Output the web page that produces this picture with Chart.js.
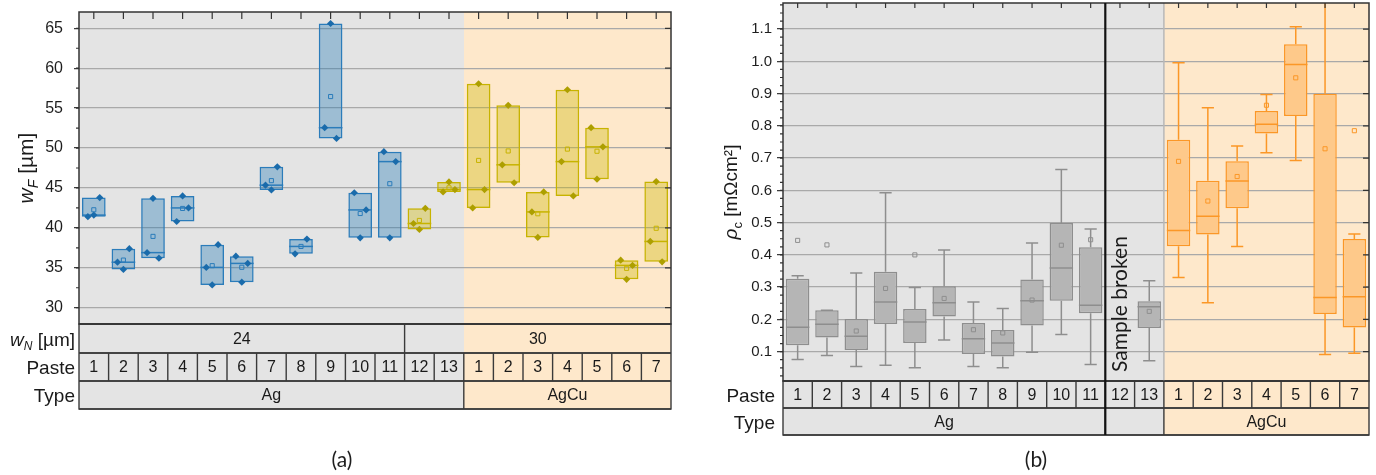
<!DOCTYPE html>
<html>
<head>
<meta charset="utf-8">
<title>Finger width and contact resistivity by paste</title>
<script src="https://cdn.jsdelivr.net/npm/chart.js@4.4.1/dist/chart.umd.min.js"></script>
<style>
  html, body { margin: 0; padding: 0; background: #ffffff; }
  body { position: relative; width: 1376px; height: 475px; overflow: hidden; }
  .panel { position: absolute; }
  .panel canvas { display: block; }
  #panelA { left: 0; top: 0; width: 690px; height: 475px; }
  #panelB { left: 690px; top: -2px; width: 686px; height: 477px; }
  .caption { position: absolute; top: 446px; transform: translateX(-50%);
             font: 21px Lato, 'Open Sans', sans-serif; line-height: 26px; color: #1e1e1e; }
</style>
</head>
<body>
<div class="panel" id="panelA"><canvas id="chartA" width="690" height="475" style="width:690px;height:475px"></canvas></div>
<div class="panel" id="panelB"><canvas id="chartB" width="686" height="477" style="width:686px;height:477px"></canvas></div>
<div class="caption" style="left:342px">(a)</div>
<div class="caption" style="left:1036px">(b)</div>
<script>
// ---------------------------------------------------------------------------
// Data
// ---------------------------------------------------------------------------
// Paste numbering along the x axis (Ag pastes 1-13, AgCu pastes 1-7)
const pasteLabels = ['1','2','3','4','5','6','7','8','9','10','11','12','13','1','2','3','4','5','6','7'];
const pasteType = ['Ag','Ag','Ag','Ag','Ag','Ag','Ag','Ag','Ag','Ag','Ag','Ag','Ag',
                   'AgCu','AgCu','AgCu','AgCu','AgCu','AgCu','AgCu'];
// Screen opening width w_N [µm] per paste
const screenWidth = [24,24,24,24,24,24,24,24,24,24,24,30,30,30,30,30,30,30,30,30];

// Header groups of the category tables: [text, number of pastes]
const wNGroups    = [['24', 11], ['30', 9]];
const typeGroupsA = [['Ag', 13], ['AgCu', 7]];
const typeGroupsB = [['Ag', 11], ['', 2], ['AgCu', 7]];

// Axis tick labels
const wFTicks  = [30, 35, 40, 45, 50, 55, 60, 65];
const rhoTicks = [0.1, 0.2, 0.3, 0.4, 0.5, 0.6, 0.7, 0.8, 0.9, 1.0, 1.1];

// (a) Finger width w_F [µm]: individual measurements per paste
const wFMeasured = [
  [41.4, 41.6, 43.8],
  [35.7, 34.8, 37.4],
  [36.9, 43.7, 36.2],
  [40.8, 44.0, 42.5],
  [35.05, 32.85, 37.9],
  [36.45, 33.2, 35.55],
  [45.35, 44.75, 47.65],
  [36.75, 38.6],
  [52.55, 65.6, 51.2],
  [44.4, 38.75, 42.25],
  [49.55, 38.75, 48.3],
  [40.55, 39.8, 42.45],
  [44.5, 45.75, 44.8],
  [42.5, 58.05, 44.8],
  [47.9, 55.35, 45.65],
  [42.0, 38.8, 44.5],
  [48.3, 57.3, 44.0],
  [52.55, 46.1, 50.15],
  [35.95, 33.55, 35.3],
  [38.3, 45.8, 35.75]
];

// (b) Contact resistivity rho_c [mΩcm²]: box statistics per paste (paste 12 has no data)
const rhoWhiskerLow  = [0.076, 0.088, 0.054, 0.058, 0.050, 0.136, 0.054, 0.050, 0.098, 0.153, 0.060, null, 0.072,
                        0.330, 0.252, 0.426, 0.717, 0.693, 0.091, 0.095];
const rhoQ1          = [0.120, 0.144, 0.105, 0.186, 0.127, 0.209, 0.093, 0.085, 0.181, 0.258, 0.219, null, 0.173,
                        0.427, 0.463, 0.545, 0.776, 0.831, 0.217, 0.175];
const rhoMedian      = [0.176, 0.185, 0.148, 0.254, 0.192, 0.252, 0.140, 0.127, 0.258, 0.359, 0.244, null, 0.239,
                        0.476, 0.520, 0.629, 0.805, 0.990, 0.268, 0.270];
const rhoQ3          = [0.326, 0.228, 0.201, 0.348, 0.232, 0.303, 0.189, 0.167, 0.324, 0.499, 0.424, null, 0.256,
                        0.757, 0.630, 0.690, 0.846, 1.053, 0.900, 0.449];
const rhoWhiskerHigh = [0.335, 0.228, 0.344, 0.593, 0.299, 0.415, 0.254, 0.234, 0.437, 0.665, 0.480, null, 0.320,
                        0.996, 0.856, 0.738, 0.897, 1.107, 1.300, 0.465];
const rhoMean        = [0.445, 0.431, 0.164, 0.296, 0.400, 0.265, 0.168, 0.158, 0.260, 0.430, 0.447, null, 0.225,
                        0.690, 0.567, 0.643, 0.864, 0.949, 0.729, 0.785];
const brokenText = 'Sample broken';

// ---------------------------------------------------------------------------
// Styling
// ---------------------------------------------------------------------------
const N = pasteLabels.length;
const FONT   = "'Liberation Sans', Arial, sans-serif";
const NARROW = "'Liberation Sans Narrow', 'Liberation Sans', Arial, sans-serif";
const SOFT   = "Lato, 'Open Sans', sans-serif";
const C = {
  bgAg: '#e4e4e4', bgAgCu: '#fee8cb',
  blueLine: '#2b7cba', blueFill: 'rgba(31,119,180,0.36)', blueDot: '#1a6bab',
  oliveLine: '#c7b300', oliveFill: 'rgba(205,184,0,0.36)', oliveDot: '#ad9f00',
  greyLine: '#8e8e8e', greyFill: '#b5b5b5',
  orangeLine: '#fb9727', orangeFill: '#fec98a',
  grid: '#a9a9a9', frame: '#333333', table: '#3a3a3a', text: '#1a1a1a'
};
const JITTER = { 1: [0], 2: [-0.2, 0.2], 3: [-0.2, 0, 0.2] };

Chart.defaults.font.family = FONT;
Chart.defaults.color = C.text;

// ---------------------------------------------------------------------------
// Helpers
// ---------------------------------------------------------------------------
function catBg(i) { return pasteType[i] === 'Ag' ? C.bgAg : C.bgAgCu; }

function paintColumns(chart, top, bottom) {
  const xs = chart.scales.x, ctx = chart.ctx;
  for (let i = 0; i < N; i++) {
    const a = Math.round(xs.getPixelForValue(i));
    const b = Math.round(xs.getPixelForValue(i + 1));
    ctx.fillStyle = catBg(i);
    ctx.fillRect(a, top, b - a, bottom - top);
  }
}

// Mixed-style text (italic symbols, subscripts); parts = [text, font, dy]
function richText(ctx, parts, x, y, rot, align) {
  ctx.save();
  ctx.translate(x, y);
  ctx.rotate(rot);
  ctx.textAlign = 'left';
  ctx.textBaseline = 'alphabetic';
  ctx.fillStyle = C.text;
  let total = 0;
  const widths = parts.map(p => { ctx.font = p[1]; const w = ctx.measureText(p[0]).width; total += w; return w; });
  let cx = align === 'right' ? -total : (align === 'left' ? 0 : -total / 2);
  parts.forEach((p, k) => { ctx.font = p[1]; ctx.fillText(p[0], cx, p[2]); cx += widths[k]; });
  ctx.restore();
}

function drawTable(chart, rows, labelX) {
  const ctx = chart.ctx, xs = chart.scales.x;
  const px = v => xs.getPixelForValue(v);
  const L = px(0), R = px(N);
  rows.forEach(r => paintColumns(chart, r.top, r.bottom));
  ctx.save();
  ctx.strokeStyle = C.table;
  ctx.lineWidth = 1.4;
  rows.forEach(r => {
    const mid = (r.top + r.bottom) / 2;
    let s = 0;
    ctx.beginPath();
    r.groups.forEach(([txt, n]) => {
      if (txt) {
        ctx.font = '16px ' + NARROW;
        ctx.fillStyle = C.text;
        ctx.textAlign = 'center';
        ctx.textBaseline = 'middle';
        ctx.fillText(txt, px(s + n / 2), mid + 1);
      }
      if (s > 0) { ctx.moveTo(px(s), r.top); ctx.lineTo(px(s), r.bottom); }
      s += n;
    });
    ctx.moveTo(L, r.top); ctx.lineTo(R, r.top);
    ctx.moveTo(L, r.bottom); ctx.lineTo(R, r.bottom);
    ctx.stroke();
    richText(ctx, r.label, labelX, mid + 7, 0, 'right');
  });
  ctx.strokeRect(L, rows[0].top, R - L, rows[rows.length - 1].bottom - rows[0].top);
  ctx.restore();
}

function drawFrameAndTicks(chart, cfg) {
  const ctx = chart.ctx, ys = chart.scales.y, xs = chart.scales.x, a = chart.chartArea;
  ctx.save();
  ctx.strokeStyle = C.frame;
  ctx.lineWidth = 1.2;
  ctx.beginPath();
  // minor ticks, outside the left axis
  const k0 = Math.ceil(ys.min / cfg.minorStep), k1 = Math.floor(ys.max / cfg.minorStep);
  for (let k = k0; k <= k1; k++) {
    const y = ys.getPixelForValue(k * cfg.minorStep);
    ctx.moveTo(a.left - cfg.minorLen, y); ctx.lineTo(a.left, y);
  }
  // major ticks, inside the right axis
  ys.ticks.forEach(t => {
    const y = ys.getPixelForValue(t.value);
    ctx.moveTo(a.right, y); ctx.lineTo(a.right - cfg.rightLen, y);
  });
  // category ticks, inside the top axis
  for (let i = 0; i < N; i++) {
    const x = xs.getPixelForValue(i + 0.5);
    ctx.moveTo(x, a.top); ctx.lineTo(x, a.top + cfg.topLen);
  }
  ctx.stroke();
  ctx.lineWidth = 1.5;
  ctx.strokeRect(a.left, a.top, a.right - a.left, a.bottom - a.top);
  ctx.restore();
}

function yAxisOptions(ticksArr, min, max, width, fontSize, pad, tickLen, fmt) {
  return {
    type: 'linear', min, max,
    afterBuildTicks: s => { s.ticks = ticksArr.map(v => ({ value: v })); },
    afterFit: s => { s.width = width; s.paddingTop = 0; s.paddingBottom = 0; },
    ticks: { font: { size: fontSize, family: FONT }, color: '#1e1e1e', padding: pad, callback: fmt },
    grid: { color: C.grid, lineWidth: 1.3, drawTicks: true, tickLength: tickLen, tickColor: C.frame, tickWidth: 1.2 },
    border: { display: false }
  };
}

function xAxisOptions() {
  return {
    type: 'linear', min: 0, max: N, display: false, offset: false,
    afterBuildTicks: s => { s.ticks = pasteLabels.map((_, i) => ({ value: i + 0.5 })); },
    grid: { offset: false }
  };
}

// ---------------------------------------------------------------------------
// (a) Finger width
// ---------------------------------------------------------------------------
const wFStats = wFMeasured.map(p => {
  const s = [...p].sort((u, v) => u - v), n = s.length;
  const median = n % 2 ? s[(n - 1) / 2] : (s[n / 2 - 1] + s[n / 2]) / 2;
  const mean = p.reduce((u, v) => u + v, 0) / n;
  return { min: s[0], max: s[n - 1], median, mean };
});
const wide = i => screenWidth[i] === 30;

const wFBoxes = wFStats.map((s, i) => ({ x: i + 0.5, y: [s.min, s.max], c: i }));
const wFMeans = wFStats.map((s, i) => ({ x: i + 0.5, y: s.mean, c: i }));
const wFDots = [];
wFMeasured.forEach((p, i) => {
  const off = JITTER[p.length];
  p.forEach((v, k) => wFDots.push({ x: i + 0.5 + off[k], y: v, c: i }));
});

const panelAPlugin = {
  id: 'panelA',
  beforeDraw(chart) {
    const a = chart.chartArea;
    paintColumns(chart, a.top, a.bottom);
  },
  afterDatasetDraw(chart, args) {
    if (args.index !== 0) return;
    const ctx = chart.ctx, ys = chart.scales.y;
    ctx.save();
    ctx.lineWidth = 1.5;
    args.meta.data.forEach((bar, j) => {
      const i = wFBoxes[j].c;
      const y = ys.getPixelForValue(wFStats[i].median);
      ctx.strokeStyle = wide(i) ? C.oliveLine : C.blueLine;
      ctx.beginPath();
      ctx.moveTo(bar.x - bar.width / 2, y);
      ctx.lineTo(bar.x + bar.width / 2, y);
      ctx.stroke();
    });
    ctx.restore();
  },
  afterDraw(chart) {
    const a = chart.chartArea, ctx = chart.ctx;
    drawTable(chart, [
      { top: a.bottom, bottom: a.bottom + 29, groups: wNGroups,
        label: [['w', 'italic 19px ' + FONT, 0], ['N', 'italic 12px ' + FONT, 4], [' [µm]', '19px ' + FONT, 0]] },
      { top: a.bottom + 29, bottom: a.bottom + 57, groups: pasteLabels.map(l => [l, 1]),
        label: [['Paste', '19px ' + FONT, 0]] },
      { top: a.bottom + 57, bottom: a.bottom + 85, groups: typeGroupsA,
        label: [['Type', '19px ' + FONT, 0]] }
    ], a.left - 4);
    drawFrameAndTicks(chart, { minorStep: 2.5, minorLen: 3, rightLen: 6, topLen: 7 });
    richText(ctx, [['w', 'italic 21px ' + FONT, 0], ['F', 'italic 14px ' + FONT, 5], [' [µm]', '21px ' + FONT, 0]],
             a.left - 46, (a.top + a.bottom) / 2, -Math.PI / 2, 'center');
  }
};

new Chart(document.getElementById('chartA'), {
  type: 'bar',
  data: {
    datasets: [
      {
        type: 'bar', order: 3, data: wFBoxes,
        backgroundColor: c => wide(c.dataIndex) ? C.oliveFill : C.blueFill,
        borderColor: c => wide(c.dataIndex) ? C.oliveLine : C.blueLine,
        borderWidth: 1.5, borderSkipped: false,
        barPercentage: 0.8, categoryPercentage: 1
      },
      {
        type: 'scatter', order: 2, data: wFDots,
        pointStyle: 'rectRot', pointRadius: 3.6, borderWidth: 0,
        backgroundColor: c => wide(c.raw.c) ? C.oliveDot : C.blueDot,
        borderColor: c => wide(c.raw.c) ? C.oliveDot : C.blueDot
      },
      {
        type: 'scatter', order: 1, data: wFMeans,
        pointStyle: 'rect', pointRadius: 2.9, borderWidth: 1,
        backgroundColor: 'rgba(0,0,0,0)',
        borderColor: c => wide(c.raw.c) ? C.oliveLine : C.blueLine
      }
    ]
  },
  options: {
    responsive: false, animation: false, devicePixelRatio: 1, events: [],
    layout: { padding: { top: 12, left: 0, right: 19, bottom: 151 } },
    plugins: { legend: { display: false }, tooltip: { enabled: false } },
    scales: {
      x: xAxisOptions(),
      y: yAxisOptions(wFTicks, 27.96, 67.04, 79, 16, 11, 5, v => String(v))
    }
  },
  plugins: [panelAPlugin]
});

// ---------------------------------------------------------------------------
// (b) Contact resistivity
// ---------------------------------------------------------------------------
const rhoIdx = pasteLabels.map((_, i) => i).filter(i => rhoMedian[i] !== null);
const brokenIdx = pasteLabels.map((_, i) => i).filter(i => rhoMedian[i] === null);
const isAg = i => pasteType[i] === 'Ag';
const rhoBoxes = rhoIdx.map(i => ({ x: i + 0.5, y: [rhoQ1[i], rhoQ3[i]], c: i }));
const rhoMeans = rhoIdx.map(i => ({ x: i + 0.5, y: rhoMean[i], c: i }));

const panelBPlugin = {
  id: 'panelB',
  beforeDraw(chart) {
    const a = chart.chartArea;
    paintColumns(chart, a.top, a.bottom);
  },
  afterDatasetDraw(chart, args) {
    if (args.index !== 0) return;
    const ctx = chart.ctx, ys = chart.scales.y, a = chart.chartArea;
    ctx.save();
    ctx.beginPath();
    ctx.rect(a.left, a.top, a.right - a.left, a.bottom - a.top);
    ctx.clip();
    ctx.lineWidth = 1.5;
    args.meta.data.forEach((bar, j) => {
      const i = rhoBoxes[j].c;
      const y = v => ys.getPixelForValue(v);
      const half = bar.width / 2, cap = bar.width * 0.26;
      ctx.strokeStyle = isAg(i) ? C.greyLine : C.orangeLine;
      ctx.beginPath();
      // median
      ctx.moveTo(bar.x - half, y(rhoMedian[i])); ctx.lineTo(bar.x + half, y(rhoMedian[i]));
      // whiskers with caps
      ctx.moveTo(bar.x, y(rhoQ3[i])); ctx.lineTo(bar.x, y(rhoWhiskerHigh[i]));
      ctx.moveTo(bar.x - cap, y(rhoWhiskerHigh[i])); ctx.lineTo(bar.x + cap, y(rhoWhiskerHigh[i]));
      ctx.moveTo(bar.x, y(rhoQ1[i])); ctx.lineTo(bar.x, y(rhoWhiskerLow[i]));
      ctx.moveTo(bar.x - cap, y(rhoWhiskerLow[i])); ctx.lineTo(bar.x + cap, y(rhoWhiskerLow[i]));
      ctx.stroke();
    });
    ctx.restore();
  },
  afterDraw(chart) {
    const a = chart.chartArea, ctx = chart.ctx, xs = chart.scales.x;
    const px = v => xs.getPixelForValue(v);
    const tableBottom = a.bottom + 54;
    drawTable(chart, [
      { top: a.bottom, bottom: a.bottom + 27, groups: pasteLabels.map(l => [l, 1]),
        label: [['Paste', '19px ' + FONT, 0]] },
      { top: a.bottom + 27, bottom: tableBottom, groups: typeGroupsB,
        label: [['Type', '19px ' + FONT, 0]] }
    ], a.left - 8);
    // boundary between Ag and AgCu columns inside the plot
    const agEnd = pasteType.indexOf('AgCu');
    ctx.save();
    ctx.strokeStyle = '#b8b8b8';
    ctx.lineWidth = 1.5;
    ctx.beginPath();
    ctx.moveTo(px(agEnd), a.top); ctx.lineTo(px(agEnd), a.bottom);
    ctx.stroke();
    ctx.restore();
    drawFrameAndTicks(chart, { minorStep: 0.025, minorLen: 3, rightLen: 6, topLen: 5 });
    // broken sample: separator and note
    brokenIdx.forEach(i => {
      ctx.save();
      ctx.strokeStyle = '#111111';
      ctx.lineWidth = 2.2;
      ctx.beginPath();
      ctx.moveTo(px(i), a.top); ctx.lineTo(px(i), tableBottom);
      ctx.stroke();
      ctx.restore();
      richText(ctx, [[brokenText, '21px ' + SOFT, 0]], px(i + 0.5) + 7, a.bottom - 9, -Math.PI / 2, 'left');
    });
    richText(ctx, [['ρ', 'italic 19px ' + FONT, 0], ['c', '13px ' + FONT, 5], [' [mΩcm²]', '19px ' + FONT, 0]],
             a.left - 46, (a.top + a.bottom) / 2, -Math.PI / 2, 'center');
  }
};

new Chart(document.getElementById('chartB'), {
  type: 'bar',
  data: {
    datasets: [
      {
        type: 'bar', order: 3, data: rhoBoxes,
        backgroundColor: c => isAg(c.raw.c) ? C.greyFill : C.orangeFill,
        borderColor: c => isAg(c.raw.c) ? C.greyLine : C.orangeLine,
        borderWidth: 1.5, borderSkipped: false,
        barPercentage: 0.8, categoryPercentage: 1
      },
      {
        type: 'scatter', order: 1, data: rhoMeans,
        pointStyle: 'rect', pointRadius: 2.9, borderWidth: 1,
        backgroundColor: 'rgba(0,0,0,0)',
        borderColor: c => isAg(c.raw.c) ? C.greyLine : C.orangeLine
      }
    ]
  },
  options: {
    responsive: false, animation: false, devicePixelRatio: 1, events: [],
    layout: { padding: { top: 1, left: 0, right: 7, bottom: 94 } },
    plugins: { legend: { display: false }, tooltip: { enabled: false } },
    scales: {
      x: xAxisOptions(),
      y: yAxisOptions(rhoTicks, 0.009, 1.181, 93, 15, 5, 6, v => v.toFixed(1))
    }
  },
  plugins: [panelBPlugin]
});
</script>
</body>
</html>
